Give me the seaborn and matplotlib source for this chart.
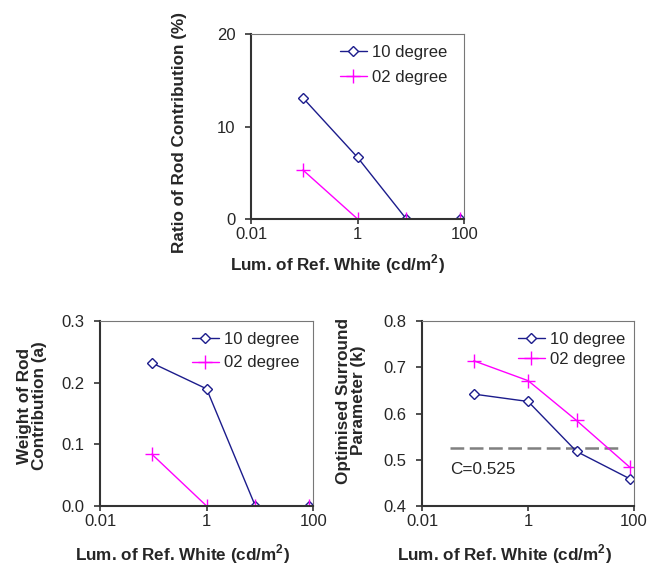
import matplotlib
matplotlib.use("Agg")
import matplotlib.pyplot as plt
import seaborn as sns
import pandas as pd
import numpy as np

# ---- data ----
lum = [0.094, 1, 8.2, 83]
series_names = ["10 degree", "02 degree"]
ratio_10 = [13.1, 6.65, 0.0, 0.0]
ratio_02 = [5.3, 0.0, 0.0, 0.0]
weight_10 = [0.232, 0.190, 0.0, 0.0]
weight_02 = [0.084, 0.0, 0.0, 0.0]
k_10 = [0.642, 0.626, 0.518, 0.459]
k_02 = [0.714, 0.671, 0.585, 0.484]
c_value = 0.525
c_line_x = [0.034, 60]
x_ticks = [0.01, 1, 100]
x_ticklabels = ["0.01", "1", "100"]

sns.set_style("ticks")
plt.rcParams['font.family'] = ['Liberation Sans', 'DejaVu Sans']
plt.rcParams['mathtext.fontset'] = 'custom'
plt.rcParams['mathtext.rm'] = 'Liberation Sans'
plt.rcParams['mathtext.bf'] = 'Liberation Sans:bold'

colors = {"10 degree": "#1c1c8c", "02 degree": "#ff00ff"}

FS_TICK = 12
FS_LABEL = 12.3

def long_df(v10, v02):
    return pd.DataFrame({
        "x": lum + lum,
        "y": v10 + v02,
        "series": [series_names[0]] * len(lum) + [series_names[1]] * len(lum),
    })

fig = plt.figure(figsize=(6.52, 5.65), dpi=100)
ax_top = fig.add_axes([0.385, 0.6124, 0.327, 0.3274])
ax_bl = fig.add_axes([0.1534, 0.1044, 0.327, 0.3274])
ax_br = fig.add_axes([0.6477, 0.1044, 0.3247, 0.3274])

def draw(ax, v10, v02, ylim, yticks, yticklabels, ylabel,
         ylab_xy, xlab_xy, leg_anchor, leg_spacing):
    df = long_df(v10, v02)
    for name in series_names:
        sub = df[df.series == name]
        if name == "10 degree":
            kw = dict(marker="D", markersize=5, markerfacecolor="white",
                      markeredgecolor=colors[name], markeredgewidth=1.0)
        else:
            kw = dict(marker="+", markersize=10, markeredgewidth=1.0,
                      markeredgecolor=colors[name])
        sns.lineplot(data=sub, x="x", y="y", ax=ax, color=colors[name],
                     linewidth=1.0, label=name, **kw)
    ax.set_xscale("log")
    ax.set_xlim(0.01, 100)
    ax.set_ylim(*ylim)
    ax.set_xticks(x_ticks)
    ax.set_xticklabels(x_ticklabels)
    ax.minorticks_off()
    ax.set_yticks(yticks)
    ax.set_yticklabels(yticklabels)
    ax.tick_params(axis="y", labelsize=FS_TICK, length=4.3, width=1.2,
                   color="#333333", pad=7)
    ax.tick_params(axis="x", labelsize=FS_TICK, length=3.5, width=1.2,
                   color="#333333", pad=2)
    ax.set_xlabel("Lum. of Ref. White (cd/m$^\\mathbf{2}$)", fontsize=FS_LABEL,
                  fontweight="bold")
    ax.set_ylabel(ylabel, fontsize=FS_LABEL, fontweight="bold",
                  linespacing=1.0)
    ax.yaxis.set_label_coords(*ylab_xy)
    ax.yaxis.label.set_verticalalignment("center")
    ax.xaxis.set_label_coords(*xlab_xy)
    ax.xaxis.label.set_verticalalignment("center")
    for s in ["left", "bottom"]:
        ax.spines[s].set_color("#333333")
        ax.spines[s].set_linewidth(1.5)
    for s in ["top", "right"]:
        ax.spines[s].set_visible(True)
        ax.spines[s].set_color("#777777")
        ax.spines[s].set_linewidth(0.8)
    ax.legend(loc="upper right", bbox_to_anchor=leg_anchor, frameon=False,
              fontsize=FS_TICK, handlelength=1.6, handletextpad=0.3,
              labelspacing=leg_spacing, borderaxespad=0, borderpad=0)

draw(ax_top, ratio_10, ratio_02, (0, 20), [0, 10, 20], ["0", "10", "20"],
     "Ratio of Rod Contribution (%)",
     (-0.335, 0.47), (0.406, -45 / 185), (0.92, 0.94), 0.6)
draw(ax_bl, weight_10, weight_02, (0, 0.3), [0, 0.1, 0.2, 0.3],
     ["0.0", "0.1", "0.2", "0.3"], "Weight of Rod\nContribution (a)",
     (-0.318, 0.54), (0.387, -48 / 185), (0.933, 0.94), 0.5)
draw(ax_br, k_10, k_02, (0.4, 0.8), [0.4, 0.5, 0.6, 0.7, 0.8],
     ["0.4", "0.5", "0.6", "0.7", "0.8"], "Optimised Surround\nParameter (k)",
     (-0.338, 0.57), (0.386, -48 / 185), (0.957, 0.94), 0.28)

ax_br.plot(c_line_x, [c_value, c_value], color="#808080", linewidth=1.8,
           linestyle=(0, (5.5, 2.2)), zorder=1)
ax_br.text(0.033, 0.48, "C=0.525", fontsize=FS_LABEL, ha="left", va="center")

fig.savefig("out.png", dpi=100)
